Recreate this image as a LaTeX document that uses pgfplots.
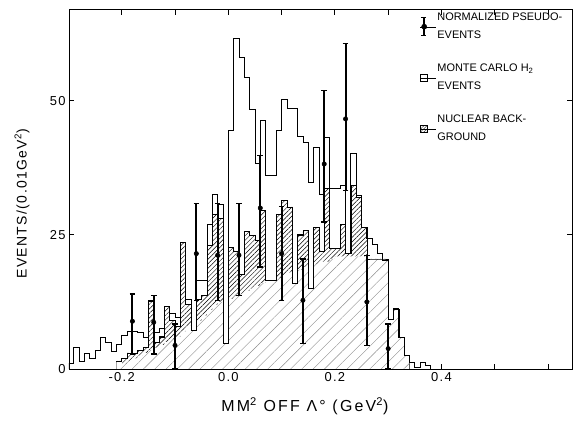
\documentclass[border=0pt]{standalone}
\usepackage{fontspec}
\setmainfont{Liberation Sans}[LetterSpace=10]
\newfontfamily\legfont{Liberation Sans}
\newfontfamily\xlabfont{Liberation Sans}[LetterSpace=14]
\usepackage{pgfplots}
\pgfplotsset{compat=1.18}
\usetikzlibrary{patterns,patterns.meta,calc}
\pgfplotsset{error bars/error bar style={line width=2pt}}

\pgfplotstableread{
x y
-0.30 0
-0.30 1.0
-0.29 4.1
-0.28 1.5
-0.27 3.0
-0.26 2.0
-0.25 3.4
-0.24 5.9
-0.23 5.0
-0.22 3.2
-0.21 4.6
-0.20 6.2
-0.19 7.0
-0.18 7.0
-0.17 6.8
-0.16 5.9
-0.15 12.7
-0.14 6.9
-0.13 7.5
-0.12 11.6
-0.11 10.3
-0.10 9.7
-0.09 23.6
-0.08 13.0
-0.07 7.2
-0.06 16.6
-0.05 16.6
-0.04 27.0
-0.03 32.5
-0.02 30.6
-0.01 4.7
0.00 44.4
0.01 61.7
0.02 58.0
0.03 54.4
0.04 48.3
0.05 38.4
0.06 46.4
0.07 36.0
0.08 36.0
0.09 44.4
0.10 50.3
0.11 48.5
0.12 48.5
0.13 43.3
0.14 42.3
0.15 34.8
0.16 41.3
0.17 32.6
0.18 43.2
0.19 33.6
0.20 33.6
0.21 34.2
0.22 21.5
0.23 40.1
0.24 32.3
0.25 26.4
0.26 24.3
0.27 23.3
0.28 21.5
0.29 20.2
0.30 9.3
0.31 11.2
0.32 5.9
0.33 2.5
0.34 1.3
0.35 0.3
0.36 1.3
0.37 0.6
0.38 0.6
0.38 0
}\mctable

\pgfplotstableread{
x y
-0.21 1.5
-0.20 2.0
-0.19 3.0
-0.18 3.0
-0.17 3.5
-0.16 4.0
-0.15 12.7
-0.14 5.0
-0.13 6.0
-0.12 11.6
-0.11 9.0
-0.10 8.0
-0.09 23.6
-0.08 12.0
-0.07 7.2
-0.06 13.0
-0.05 13.7
-0.04 23.0
-0.03 28.9
-0.02 28.0
-0.01 4.7
0.00 22.7
0.01 22.0
0.02 17.7
0.03 25.7
0.04 24.9
0.05 24.0
0.06 29.5
0.07 16.5
0.08 16.5
0.09 28.9
0.10 31.4
0.11 30.2
0.12 16.0
0.13 25.0
0.14 25.8
0.15 15.0
0.16 26.4
0.17 22.0
0.18 33.6
0.19 22.5
0.20 22.5
0.21 27.0
0.22 21.5
0.23 34.2
0.24 32.0
0.25 26.4
0.26 20.5
0.27 20.5
0.28 20.5
0.29 20.5
0.30 9.3
0.31 11.2
0.32 5.9
0.33 2.5
0.34 2.5
}\bgtable

% lower, sparsely hatched part of the background
\pgfplotstableread{
x y
-0.21 1.5
-0.20 1.0
-0.19 1.5
-0.18 2.0
-0.17 2.5
-0.16 3.0
-0.15 3.5
-0.14 4.0
-0.13 4.5
-0.12 5.0
-0.11 5.5
-0.10 6.0
-0.09 7.0
-0.08 8.0
-0.07 7.2
-0.06 9.0
-0.05 10.0
-0.04 11.0
-0.03 12.0
-0.02 12.5
-0.01 4.7
0.00 13.0
0.01 13.5
0.02 14.0
0.03 14.5
0.04 15.0
0.05 15.5
0.06 16.0
0.07 16.5
0.08 16.5
0.09 17.0
0.10 17.5
0.11 18.0
0.12 16.0
0.13 18.5
0.14 19.0
0.15 15.0
0.16 19.5
0.17 20.0
0.18 20.0
0.19 20.5
0.20 21.0
0.21 21.0
0.22 21.0
0.23 21.0
0.24 21.0
0.25 21.0
0.26 20.5
0.27 20.5
0.28 20.5
0.29 20.5
0.30 9.3
0.31 11.2
0.32 5.9
0.33 2.5
0.34 2.5
}\lowtable

\begin{document}
\begin{tikzpicture}
\begin{axis}[name=ax, scale only axis, width=503bp, height=359bp,
  xmin=-0.299, xmax=0.645, ymin=0, ymax=66.9,
  xtick={-0.2,0,0.2,0.4}, xticklabels={-0.2,0.0,0.2,0.4},
  minor xtick={-0.1,0.1,0.3,0.5,0.6},
  ytick={0,25,50}, yticklabels={0,25,50},
  tick align=inside, major tick length=5bp, minor tick length=5bp,
  xtick pos=both, ytick pos=both,
  axis line style={line width=1pt},
  every tick/.style={black, line width=0.8pt},
  tick label style={font=\fontsize{13}{15}\selectfont},
  xlabel={MM\textsuperscript{2} OFF Λ° (GeV\textsuperscript{2})},
  ylabel={EVENTS/(0.01GeV\textsuperscript{2})},
  xlabel style={font=\xlabfont\fontsize{16}{18}\selectfont, at={(axis description cs:0.469,-0.103)}, anchor=center},
  ylabel style={font=\fontsize{14}{16}\selectfont, at={(axis description cs:-0.0934,0.46)}, anchor=center},
  legend style={at={(axis description cs:0.691,1.0)}, anchor=north west, draw=none, fill=none,
    font=\legfont\fontsize{11}{18}\selectfont, row sep=22bp, nodes={align=left, inner sep=1pt}},
  legend cell align=left,
]
\addlegendimage{legend image code/.code={
  \path (0,0) -- (16bp,0);
  \draw[line width=1.8pt] (4bp,-9bp) -- (4bp,9bp);
  \draw[line width=1.3pt] (1.3bp,-9bp) -- (6.7bp,-9bp);
  \draw[line width=1.3pt] (1.3bp,9bp) -- (6.7bp,9bp);
  \fill (4bp,0) circle (2.6bp);}}
\addlegendentry{NORMALIZED PSEUDO-\\EVENTS}
\addlegendimage{legend image code/.code={
  \path (0,0) -- (16bp,0);
  \draw[line width=0.8pt] (0.5bp,-3.5bp) rectangle (7.5bp,3.5bp);}}
\addlegendentry{MONTE CARLO H\textsubscript{2}\\EVENTS}
\addlegendimage{legend image code/.code={
  \path (0,0) -- (16bp,0);
  \draw[line width=0.8pt, pattern={Lines[angle=45,distance=2.2bp,line width=0.4pt]}] (0.5bp,-3.5bp) rectangle (7.5bp,3.5bp);}}
\addlegendentry{NUCLEAR BACK-\\GROUND}

\addplot[forget plot, const plot, draw=black, line width=0.7pt,
  pattern={Lines[angle=45,distance=3.2bp,line width=0.45pt]}, pattern color=black]
  table[x=x,y=y] {\bgtable} \closedcycle;
\addplot[forget plot, const plot, draw=none, fill=white]
  table[x=x,y=y] {\lowtable} \closedcycle;
\addplot[forget plot, const plot, draw=none,
  pattern={Lines[angle=45,distance=8bp,line width=0.4pt]}, pattern color=black!45]
  table[x=x,y=y] {\lowtable} \closedcycle;
\addplot[forget plot, const plot, draw=black, line width=0.6pt] table[x=x,y=y] {\bgtable};
\addplot[forget plot, const plot, draw=black, line width=0.8pt] table[x=x,y=y] {\mctable};

\addplot[forget plot, only marks, mark=*, mark size=2.2bp, black,
  mark options={line width=0.5pt},
  error bars/.cd, y dir=both, y explicit,
  error bar style={line width=2pt, black},
  error mark options={rotate=90, mark size=2.8bp, line width=1.3pt}]
coordinates {
(-0.18,8.9) += (0,5.1) -= (0,6.2)
(-0.14,8.7) += (0,5.0) -= (0,5.9)
(-0.10,4.4) += (0,4.0) -= (0,4.4)
(-0.06,21.5) += (0,9.3) -= (0,8.7)
(-0.02,21.2) += (0,9.6) -= (0,8.4)
(0.02,21.2) += (0,9.6) -= (0,7.5)
(0.06,30.0) += (0,9.8) -= (0,11.0)
(0.10,21.5) += (0,8.8) -= (0,8.7)
(0.14,12.8) += (0,7.7) -= (0,8.1)
(0.18,38.2) += (0,13.7) -= (0,10.8)
(0.22,46.6) += (0,14.0) -= (0,13.3)
(0.26,12.5) += (0,8.7) -= (0,8.1)
(0.30,3.8) += (0,4.6) -= (0,3.8)
};
\end{axis}
\pgfresetboundingbox
\path[use as bounding box] ($(ax.south west)+(-69bp,-53bp)$) rectangle ($(ax.north east)+(1bp,10bp)$);
\end{tikzpicture}
\end{document}
